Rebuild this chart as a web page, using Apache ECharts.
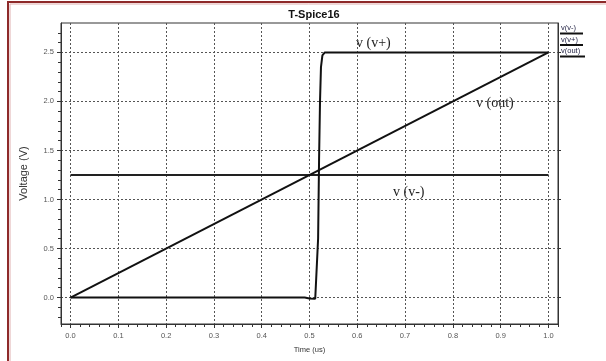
<!DOCTYPE html>
<html>
<head>
<meta charset="utf-8">
<script src="https://cdn.jsdelivr.net/npm/echarts@6/dist/echarts.min.js"></script>
<style>
  html, body { margin: 0; padding: 0; background: #fff; }
  #pageEcharts { width: 606px; height: 361px; }
</style>
</head>
<body>
<div id="pageEcharts"></div>
<script>
// 数据
var seriesNames = ['v(v-)', 'v(v+)', 'v(out)'];
var vMinus = [[0, 1.25], [1.0, 1.25]];
var vPlus = [[0, 0], [0.49, 0], [0.5, -0.01], [0.512, -0.012], [0.516, 0], [0.518, 0.6], [0.52, 1.4],
             [0.522, 2.0], [0.524, 2.35], [0.527, 2.47], [0.532, 2.5], [1.0, 2.5]];
var vOut = [[0, 0], [1.0, 2.5]];
var xTicks = [0, 0.1, 0.2, 0.3, 0.4, 0.5, 0.6, 0.7, 0.8, 0.9, 1.0];
var yTicks = [0, 0.5, 1.0, 1.5, 2.0, 2.5];

// 小刻度
var xMinor = [];
for (var i = -1; i <= 51; i++) xMinor.push(+(i * 0.02).toFixed(2));
var yMinor = [];
for (var j = -2; j <= 27; j++) yMinor.push(+(j * 0.1).toFixed(1));

var xMin = -0.02, xMax = 1.02, yMin = -0.27, yMax = 2.8;
var labelStyle = { color: '#555', fontSize: 7.5, fontFamily: 'Liberation Sans' };

var myChart = echarts.init(document.getElementById("pageEcharts"));
var option = {
    backgroundColor: '#fff',
    animation: false,
    title: {
        text: 'T-Spice16',
        left: 309,
        top: 4,
        textAlign: 'center',
        textStyle: { fontSize: 11, fontWeight: 'bold', color: '#111', fontFamily: 'Liberation Sans' }
    },
    grid: {
        left: 61, right: 48, top: 23, bottom: 37,
        show: true, borderColor: '#333', borderWidth: 1, backgroundColor: '#fff'
    },
    xAxis: [
        {
            type: 'value', min: xMin, max: xMax, position: 'bottom',
            name: 'Time (us)', nameLocation: 'middle', nameGap: 22,
            nameTextStyle: { fontSize: 7.5, color: '#333', fontFamily: 'Liberation Sans' },
            axisLine: { show: true, onZero: false, lineStyle: { color: '#333' } },
            axisTick: { show: true, customValues: xTicks, length: 4, lineStyle: { color: '#333' } },
            axisLabel: Object.assign({ customValues: xTicks, margin: 8,
                formatter: function (v) { return v.toFixed(1); } }, labelStyle),
            splitLine: { show: true, lineStyle: { color: '#555', type: [2, 2], width: 1 } }
        },
        {
            type: 'value', min: xMin, max: xMax, position: 'bottom', offset: 0,
            axisLine: { show: false, onZero: false },
            axisTick: { show: true, customValues: xMinor, length: 3, lineStyle: { color: '#333' } },
            axisLabel: { show: false },
            splitLine: { show: false }
        }
    ],
    yAxis: [
        {
            type: 'value', min: yMin, max: yMax, position: 'left',
            name: 'Voltage (V)', nameLocation: 'middle', nameGap: 32,
            nameTextStyle: { fontSize: 11, color: '#333', fontFamily: 'Liberation Sans' },
            axisLine: { show: true, onZero: false, lineStyle: { color: '#333' } },
            axisTick: { show: true, customValues: yTicks, length: 4, lineStyle: { color: '#333' } },
            axisLabel: Object.assign({ customValues: yTicks, margin: 7,
                formatter: function (v) { return v.toFixed(1); } }, labelStyle),
            splitLine: { show: true, lineStyle: { color: '#555', type: [2, 2], width: 1 } }
        },
        {
            type: 'value', min: yMin, max: yMax, position: 'left', offset: 0,
            axisLine: { show: false, onZero: false },
            axisTick: { show: true, customValues: yMinor, length: 3, lineStyle: { color: '#333' } },
            axisLabel: { show: false },
            splitLine: { show: false }
        },
        {
            type: 'value', min: yMin, max: yMax, position: 'right',
            axisLine: { show: true, onZero: false, lineStyle: { color: '#333' } },
            axisTick: { show: true, customValues: yTicks, length: 3, lineStyle: { color: '#333' } },
            axisLabel: { show: false },
            splitLine: { show: false }
        }
    ],
    series: [
        {
            name: seriesNames[0], type: 'line', data: vMinus, showSymbol: false,
            lineStyle: { color: '#222', width: 2 }, z: 3
        },
        {
            name: seriesNames[1], type: 'line', data: vPlus, showSymbol: false,
            lineStyle: { color: '#111', width: 2 }, z: 4
        },
        {
            name: seriesNames[2], type: 'line', data: vOut, showSymbol: false,
            lineStyle: { color: '#111', width: 2 }, z: 4
        }
    ],
    graphic: [
        // 外框
        { type: 'rect', shape: { x: 8, y: 2, width: 640, height: 400 }, z: -10,
          style: { fill: 'none', stroke: '#8e2a2a', lineWidth: 2 } },
        { type: 'rect', shape: { x: 10, y: 4, width: 640, height: 400 }, z: -10,
          style: { fill: 'none', stroke: '#e0b0b0', lineWidth: 1 } },
        // 图例
        { type: 'text', left: 561, top: 24, style: { text: seriesNames[0], fontSize: 7.5, fill: '#224', fontFamily: 'Liberation Sans' } },
        { type: 'line', shape: { x1: 560, y1: 33.5, x2: 583, y2: 33.5 }, style: { stroke: '#111', lineWidth: 2 } },
        { type: 'text', left: 561, top: 35.5, style: { text: seriesNames[1], fontSize: 7.5, fill: '#224', fontFamily: 'Liberation Sans' } },
        { type: 'line', shape: { x1: 560, y1: 45, x2: 583, y2: 45 }, style: { stroke: '#111', lineWidth: 2 } },
        { type: 'text', left: 561, top: 47, style: { text: seriesNames[2], fontSize: 7.5, fill: '#224', fontFamily: 'Liberation Sans' } },
        { type: 'line', shape: { x1: 560, y1: 56.5, x2: 585, y2: 56.5 }, style: { stroke: '#111', lineWidth: 2 } },
        // 曲线标注
        { type: 'text', left: 356, top: 36, style: { text: 'v (v+)', fontSize: 14, fill: '#222', fontFamily: 'Liberation Serif' } },
        { type: 'text', left: 476, top: 96, style: { text: 'v (out)', fontSize: 14, fill: '#222', fontFamily: 'Liberation Serif' } },
        { type: 'text', left: 393, top: 185, style: { text: 'v (v-)', fontSize: 14, fill: '#222', fontFamily: 'Liberation Serif' } }
    ]
};
myChart.setOption(option);
</script>
</body>
</html>
